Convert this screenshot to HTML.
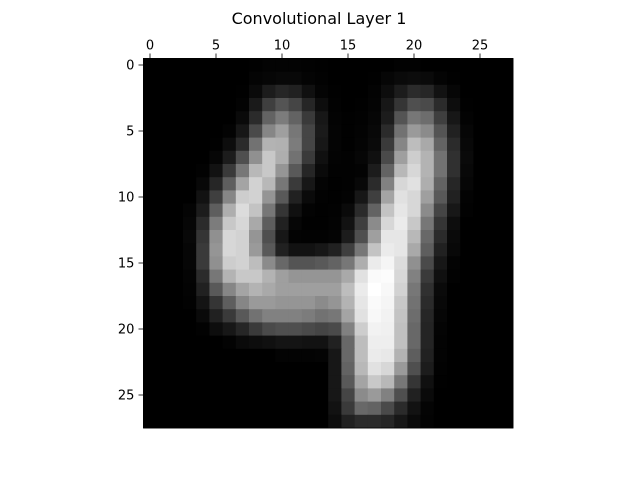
<!DOCTYPE html>
<html><head><meta charset="utf-8"><style>
html,body{margin:0;padding:0;background:#fff;}
svg{display:block;font-family:"DejaVu Sans","Liberation Sans",sans-serif;}
</style></head><body>
<svg id="chart" width="640" height="480" viewBox="0 0 640 480">
<text x="319" y="24" text-anchor="middle" font-size="16" fill="#000">Convolutional Layer 1</text>
<g id="cells"></g>
<g id="axes"></g>
</svg>
<script>
const rows = [
[2,2,2,2,2,2,2,2,3,5,5,5,4,3,2,2,2,2,2,4,4,2,2,2,2,2,2,2],
[2,2,2,2,2,2,2,2,6,8,10,10,6,4,2,2,2,3,8,12,14,12,6,3,2,2,2,2],
[2,2,2,2,2,2,2,3,12,30,40,35,18,6,3,2,2,5,15,30,45,40,20,8,2,2,2,2],
[2,2,2,2,2,2,2,5,28,65,85,70,40,15,4,2,3,6,25,55,80,75,45,15,3,2,2,2],
[2,2,2,2,2,2,2,12,45,100,125,100,60,25,5,3,4,8,30,85,120,110,65,25,5,2,2,2],
[2,2,2,2,2,2,5,25,75,135,160,120,70,28,6,3,5,10,45,115,155,140,85,35,8,2,2,2],
[2,2,2,2,2,3,15,45,115,180,178,125,70,25,6,3,6,12,60,135,190,170,100,45,10,2,2,2],
[2,2,2,2,2,8,30,80,145,200,175,115,60,18,5,4,8,18,75,160,205,180,115,50,12,2,2,2],
[2,2,2,2,4,20,60,120,185,200,150,90,40,12,4,4,5,30,100,185,215,180,115,50,10,2,2,2],
[2,2,2,2,10,40,95,165,210,185,120,60,25,6,3,4,10,45,130,215,225,175,100,40,8,2,2,2],
[2,2,2,2,20,65,135,205,210,150,90,35,12,4,3,5,25,65,165,225,215,160,90,35,5,2,2,2],
[2,2,2,6,30,95,175,220,195,120,55,18,5,3,4,12,45,100,195,230,215,140,70,25,4,2,2,2],
[2,2,2,8,45,125,200,215,170,95,35,8,3,3,5,20,65,140,215,235,200,120,55,15,2,2,2,2],
[2,2,2,10,55,145,215,210,150,80,25,5,4,4,6,30,80,160,230,230,185,105,45,12,2,2,2,2],
[2,2,2,8,60,150,215,210,155,90,35,20,20,25,35,65,120,195,235,230,170,95,35,10,2,2,2,2],
[2,2,2,8,60,145,205,210,190,140,105,85,85,90,100,120,175,235,245,220,145,75,25,5,2,2,2,2],
[2,2,2,6,45,120,180,200,200,180,160,150,150,150,150,170,225,250,252,215,130,60,18,4,2,2,2,2],
[2,2,2,5,35,90,135,165,180,170,160,160,160,160,160,190,235,255,248,210,120,50,12,2,2,2,2,2],
[2,2,2,4,22,55,95,135,155,155,150,150,150,140,150,180,230,250,245,200,115,45,10,2,2,2,2,2],
[2,2,2,2,12,35,60,90,115,130,130,130,125,115,120,165,225,248,242,195,110,40,8,2,2,2,2,2],
[2,2,2,2,4,15,25,40,60,75,80,80,75,70,75,130,205,242,240,192,105,38,6,2,2,2,2,2],
[2,2,2,2,2,2,5,12,15,18,22,22,20,20,35,105,190,238,238,192,105,38,5,2,2,2,2,2],
[2,2,2,2,2,2,2,2,2,2,5,5,5,6,25,105,190,235,232,180,95,35,5,2,2,2,2,2],
[2,2,2,2,2,2,2,2,2,2,2,2,2,2,25,100,185,225,215,155,80,30,4,2,2,2,2,2],
[2,2,2,2,2,2,2,2,2,2,2,2,2,2,25,90,165,200,185,120,55,18,3,2,2,2,2,2],
[2,2,2,2,2,2,2,2,2,2,2,2,2,2,25,70,140,155,130,80,35,12,2,2,2,2,2,2],
[2,2,2,2,2,2,2,2,2,2,2,2,2,2,20,60,105,100,75,45,20,6,2,2,2,2,2,2],
[2,2,2,2,2,2,2,2,2,2,2,2,2,2,15,35,45,45,40,25,12,5,2,2,2,2,2,2]
];
const xTicks = [0,5,10,15,20,25];
const yTicks = [0,5,10,15,20,25];

const NS="http://www.w3.org/2000/svg";
const originX=143.4, originY=58.4, cw=13.2, ch=13.2;
const nR=rows.length, nC=rows[0].length;
const xPos=c=>originX+c*cw;
const yPos=r=>originY+r*ch;
let mn=Infinity,mx=-Infinity;
rows.forEach(r=>r.forEach(v=>{if(v<mn)mn=v;if(v>mx)mx=v;}));
const gray=v=>{const g=Math.round((v-mn)/(mx-mn||1)*255);return `rgb(${g},${g},${g})`;};
const cells=document.getElementById('cells');
rows.forEach((row,r)=>row.forEach((v,c)=>{
  const el=document.createElementNS(NS,'rect');
  el.setAttribute('x',xPos(c));el.setAttribute('y',yPos(r));
  el.setAttribute('width',cw+0.4);el.setAttribute('height',ch+0.4);
  el.setAttribute('fill',gray(v));
  
  
  cells.appendChild(el);
}));
const axes=document.getElementById('axes');
const W=nC*cw,H=nR*ch;
const frame=document.createElementNS(NS,'rect');
frame.setAttribute('x',originX);frame.setAttribute('y',originY);frame.setAttribute('width',W);frame.setAttribute('height',H);
frame.setAttribute('fill','none');frame.setAttribute('stroke','#000');frame.setAttribute('stroke-width','0.8');


axes.appendChild(frame);
xTicks.forEach(t=>{
  const x=xPos(t)+cw/2;
  const l=document.createElementNS(NS,'line');
  l.setAttribute('x1',x);l.setAttribute('x2',x);l.setAttribute('y1',originY);l.setAttribute('y2',originY-4.9);
  l.setAttribute('stroke','#000');l.setAttribute('stroke-width','0.8');
  
  
  axes.appendChild(l);
  const tx=document.createElementNS(NS,'text');
  tx.setAttribute('x',x);tx.setAttribute('y',originY-9);tx.setAttribute('text-anchor','middle');tx.setAttribute('font-size','13');
  tx.textContent=t;
  
  
  axes.appendChild(tx);
});
yTicks.forEach(t=>{
  const y=yPos(t)+ch/2;
  const l=document.createElementNS(NS,'line');
  l.setAttribute('x1',originX);l.setAttribute('x2',originX-4.9);l.setAttribute('y1',y);l.setAttribute('y2',y);
  l.setAttribute('stroke','#000');l.setAttribute('stroke-width','0.8');
  
  
  axes.appendChild(l);
  const tx=document.createElementNS(NS,'text');
  tx.setAttribute('x',originX-9);tx.setAttribute('y',y+4.5);tx.setAttribute('text-anchor','end');tx.setAttribute('font-size','13');
  tx.textContent=t;
  
  
  axes.appendChild(tx);
});
</script>
</body></html>
